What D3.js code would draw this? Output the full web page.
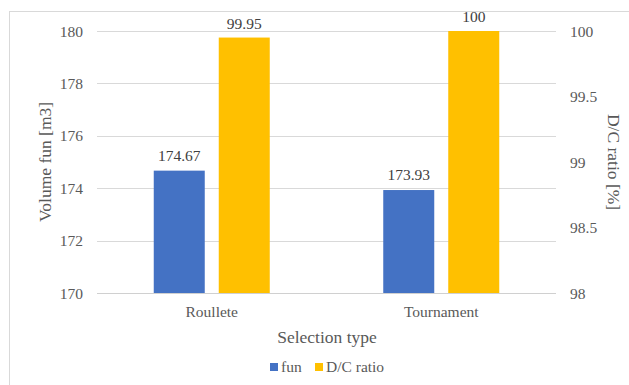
<!DOCTYPE html>
<html>
<head>
<meta charset="utf-8">
<script src="https://cdn.jsdelivr.net/npm/d3@7/dist/d3.min.js"></script>
<style>
  html, body { margin: 0; padding: 0; background: #fff; }
</style>
</head>
<body>
<svg id="chart" width="629" height="385"></svg>
<script>
const categories = ["Roullete", "Tournament"];
const funValues = [174.67, 173.93];
const dcValues = [99.95, 100];
const leftTicks = [170, 172, 174, 176, 178, 180];
const rightTicks = [98, 98.5, 99, 99.5, 100];
const seriesNames = ["fun", "D/C ratio"];
const seriesColors = ["#4472C4", "#FFC000"];

const FONT = "Liberation Serif, 'Times New Roman', serif";
const LABEL_SIZE = 15.5;
const TITLE_SIZE = 17.5;
const svg = d3.select("#chart");
const plot = { left: 97, right: 556, top: 31, bottom: 293 };

// chart frame
svg.append("rect")
  .attr("x", 9.5).attr("y", 11.5)
  .attr("width", 640).attr("height", 390)
  .attr("fill", "none").attr("stroke", "#d9d9d9").attr("stroke-width", 1);

const x = d3.scaleBand().domain(categories).range([plot.left, plot.right]);
const yL = d3.scaleLinear().domain([170, 180]).range([plot.bottom, plot.top]);
const yR = d3.scaleLinear().domain([98, 100]).range([plot.bottom, plot.top]);

// gridlines
svg.append("g").selectAll("line").data(leftTicks).join("line")
  .attr("x1", plot.left).attr("x2", plot.right)
  .attr("y1", d => Math.round(yL(d)) + 0.5).attr("y2", d => Math.round(yL(d)) + 0.5)
  .attr("stroke", d => d === 170 ? "#d0d0d0" : "#d9d9d9").attr("stroke-width", 1);

// left axis
const gL = svg.append("g").attr("transform", `translate(${plot.left},0)`)
  .call(d3.axisLeft(yL).tickValues(leftTicks).tickSize(0).tickPadding(14).tickFormat(d3.format("d")));
gL.select(".domain").remove();
gL.selectAll("text").attr("font-size", LABEL_SIZE).attr("dy", "0.33em").attr("fill", "#595959")
  .style("font-family", FONT);

// right axis
const gR = svg.append("g").attr("transform", `translate(${plot.right},0)`)
  .call(d3.axisRight(yR).tickValues(rightTicks).tickSize(0).tickPadding(14).tickFormat(d => String(d)));
gR.select(".domain").remove();
gR.selectAll("text").attr("font-size", LABEL_SIZE).attr("dy", "0.33em").attr("fill", "#595959")
  .style("font-family", FONT);

// bars with value labels and category names
const barW = 51, gap = 14;
const grp = svg.append("g");
categories.forEach((c, i) => {
  const cx = x(c) + x.bandwidth() / 2;
  const bx0 = cx - gap / 2 - barW;
  const bx1 = cx + gap / 2;
  grp.append("rect")
    .attr("x", bx0).attr("y", yL(funValues[i]))
    .attr("width", barW).attr("height", yL(170) - yL(funValues[i]))
    .attr("fill", seriesColors[0]);
  grp.append("rect")
    .attr("x", bx1).attr("y", yR(dcValues[i]))
    .attr("width", barW).attr("height", yR(98) - yR(dcValues[i]))
    .attr("fill", seriesColors[1]);
  grp.append("text")
    .attr("x", bx0 + barW / 2).attr("y", yL(funValues[i]) - 10)
    .attr("text-anchor", "middle").attr("font-size", LABEL_SIZE)
    .attr("fill", "#404040").style("font-family", FONT)
    .text(d3.format(".2f")(funValues[i]));
  grp.append("text")
    .attr("x", bx1 + barW / 2).attr("y", yR(dcValues[i]) - 9)
    .attr("text-anchor", "middle").attr("font-size", LABEL_SIZE)
    .attr("fill", "#404040").style("font-family", FONT)
    .text(String(dcValues[i]));
  grp.append("text")
    .attr("x", cx).attr("y", 317)
    .attr("text-anchor", "middle").attr("font-size", LABEL_SIZE)
    .attr("fill", "#595959").style("font-family", FONT)
    .text(c);
});

// axis titles
const titles = svg.append("g");
titles.append("text")
  .attr("x", 327).attr("y", 343)
  .attr("text-anchor", "middle")
  .text("Selection type");
titles.append("text")
  .attr("transform", `translate(51,${(plot.top + plot.bottom) / 2}) rotate(-90)`)
  .attr("text-anchor", "middle")
  .text("Volume fun [m3]");
titles.append("text")
  .attr("transform", `translate(608,${(plot.top + plot.bottom) / 2}) rotate(90)`)
  .attr("text-anchor", "middle")
  .text("D/C ratio [%]");
titles.selectAll("text").attr("fill", "#595959").attr("font-size", TITLE_SIZE).style("font-family", FONT);

// legend
const legend = svg.append("g");
const legendX = [270, 315];
seriesNames.forEach((n, i) => {
  legend.append("rect")
    .attr("x", legendX[i]).attr("y", 363)
    .attr("width", 8).attr("height", 8)
    .attr("fill", seriesColors[i]);
  legend.append("text")
    .attr("x", legendX[i] + 11).attr("y", 372)
    .attr("fill", "#595959").attr("font-size", LABEL_SIZE)
    .style("font-family", FONT)
    .text(n);
});
</script>
</body>
</html>
